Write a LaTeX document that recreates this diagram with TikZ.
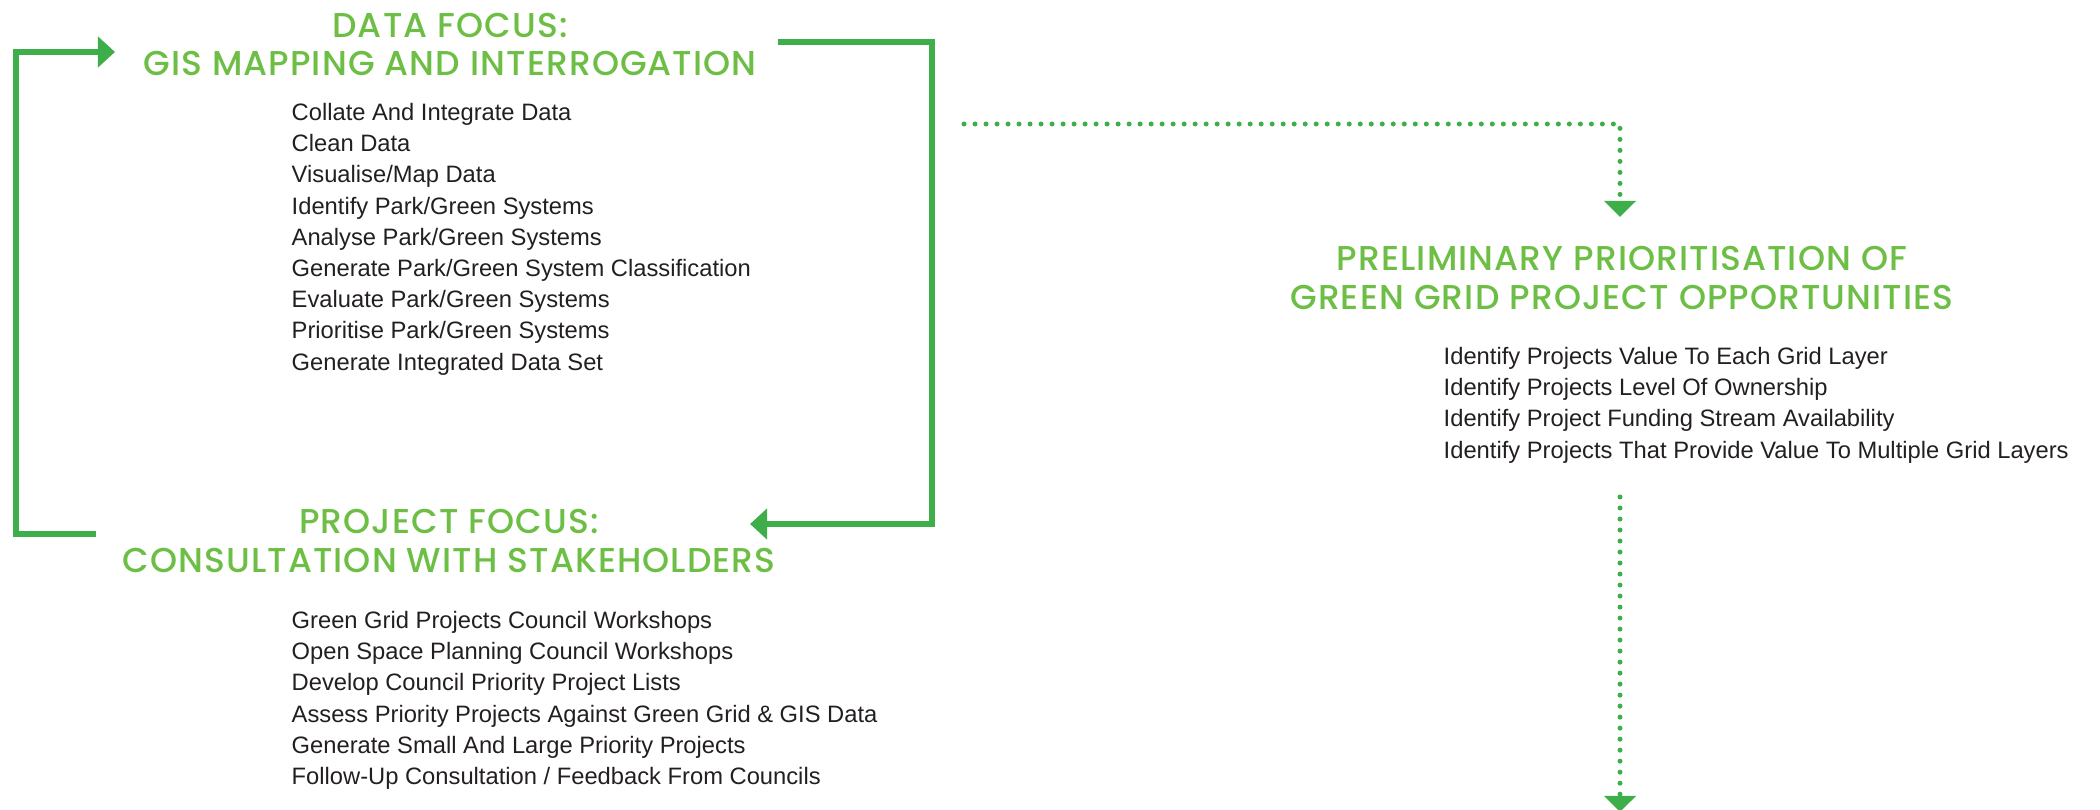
\documentclass[tikz,border=0pt]{standalone}
\usepackage{fontspec}
\setmainfont{Liberation Sans}
\newfontfamily\headfont{Poppins}[UprightFont={* Medium}, LetterSpace=3.2]
\usepackage{tikz}
\usetikzlibrary{arrows.meta,positioning}
\definecolor{titlegreen}{RGB}{108,190,69}
\definecolor{linegreen}{RGB}{61,174,73}
\definecolor{bodygray}{RGB}{35,31,32}
\tikzstyle{head} =
  [text=titlegreen, align=center, inner sep=0pt,
   font=\headfont\fontsize{9.8pt}{10.95pt}\selectfont]
\tikzstyle{list} =
  [text=bodygray, align=left, anchor=north west, inner sep=0pt,
   font=\fontsize{6.75pt}{8.88pt}\selectfont]
\tikzstyle{loop} =
  [draw=linegreen, line width=0.055cm, -{Triangle[length=0.17cm,width=0.30cm]}]
\tikzstyle{dotline} =
  [draw=linegreen, line width=0.05cm, line cap=round, dash pattern=on 0pt off 0.11cm,
   -{Triangle[length=0.16cm,width=0.31cm]}]

\begin{document}
\begin{tikzpicture}[x=0.01cm, y=-0.01cm]
  \useasboundingbox (0,0) rectangle (2100,810);

  \node [head] (datahead) at (450,44.5) {DATA FOCUS:\\GIS MAPPING AND INTERROGATION};
  \node [list] (datalist) at (291,102.5) {Collate And Integrate Data\\
    Clean Data\\
    Visualise/Map Data\\
    Identify Park/Green Systems\\
    Analyse Park/Green Systems\\
    Generate Park/Green System Classification\\
    Evaluate Park/Green Systems\\
    Prioritise Park/Green Systems\\
    Generate Integrated Data Set};

  \node [head] (projhead) at (449,541) {PROJECT FOCUS:\\CONSULTATION WITH STAKEHOLDERS};
  \node [list] (projlist) at (291,610.5) {Green Grid Projects Council Workshops\\
    Open Space Planning Council Workshops\\
    Develop Council Priority Project Lists\\
    Assess Priority Projects Against Green Grid \& GIS Data\\
    Generate Small And Large Priority Projects\\
    Follow-Up Consultation / Feedback From Councils};

  \node [head] (prelimhead) at (1622,278) {PRELIMINARY PRIORITISATION OF\\GREEN GRID PROJECT OPPORTUNITIES};
  \node [list] (prelimlist) at (1443,346.5) {Identify Projects Value To Each Grid Layer\\
    Identify Projects Level Of Ownership\\
    Identify Project Funding Stream Availability\\
    Identify Projects That Provide Value To Multiple Grid Layers};

  \coordinate (lstart) at (96,534);
  \coordinate (lcorner) at (16,52);
  \coordinate (lend) at (115,52);
  \coordinate (rstart) at (778,42);
  \coordinate (rcorner) at (932,524);
  \coordinate (rend) at (750,524);
  \coordinate (dstart) at (964,124);
  \coordinate (dend) at (1620,217);
  \coordinate (bstart) at (1620,497);
  \coordinate (bend) at (1620,812);

  \draw [loop] (lstart) -| (lcorner) -- (lend);
  \draw [loop] (rstart) -| (rcorner) -- (rend);
  \draw [dotline] (dstart) -| (dend);
  \draw [dotline] (bstart) -- (bend);
\end{tikzpicture}
\end{document}
